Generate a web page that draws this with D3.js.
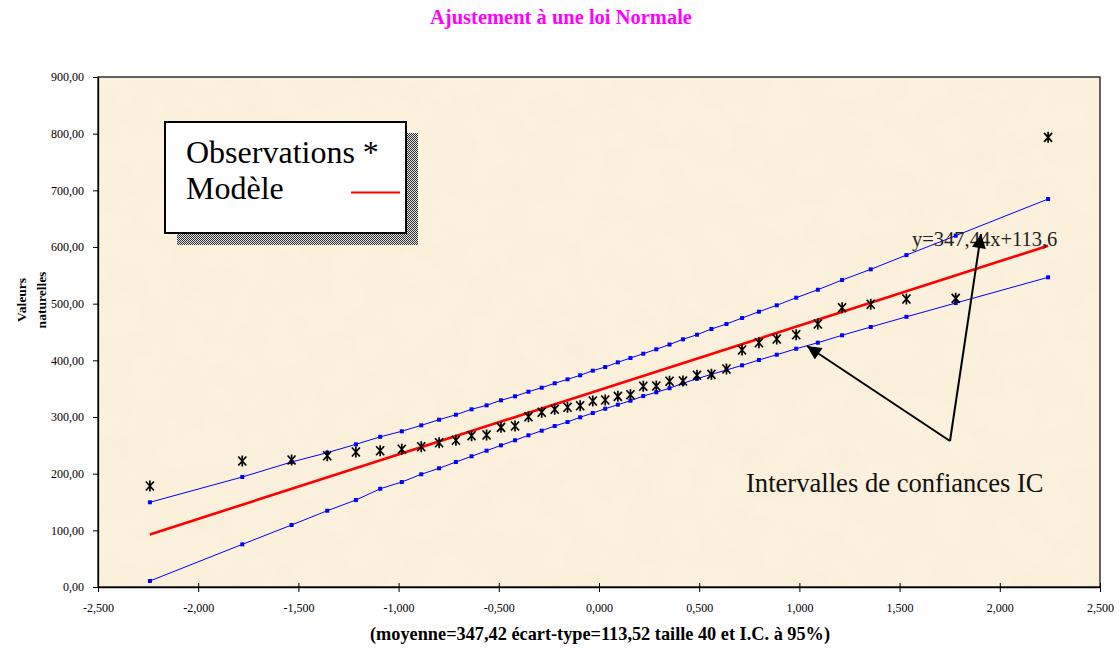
<!DOCTYPE html>
<html>
<head>
<meta charset="utf-8">
<script src="https://cdn.jsdelivr.net/npm/d3@7/dist/d3.min.js"></script>
<style>
  html, body { margin: 0; padding: 0; background: #ffffff; }
  svg { display: block; }
</style>
</head>
<body>
<svg id="chart" width="1120" height="650"></svg>
<script>
// Normal scores (quantiles of the standard normal) for the 40 ranked observations
const normalScores = [
  -2.241, -1.780, -1.534, -1.356, -1.213, -1.092, -0.984, -0.887, -0.798, -0.714,
  -0.636, -0.561, -0.489, -0.419, -0.352, -0.286, -0.221, -0.157, -0.094, -0.031,
   0.031,  0.094,  0.157,  0.221,  0.286,  0.352,  0.419,  0.489,  0.561,  0.636,
   0.714,  0.798,  0.887,  0.984,  1.092,  1.213,  1.356,  1.534,  1.780,  2.241
];

// Ranked observations (natural values)
const observations = [
  178.2, 222.3, 224.1, 231.7, 238.2, 240.5, 243.0, 247.6, 254.6, 258.9,
  267.0, 268.2, 281.8, 284.1, 300.5, 308.3, 313.6, 317.1, 319.9, 328.2,
  330.0, 336.5, 339.3, 354.2, 354.7, 363.0, 363.5, 373.6, 375.3, 384.7,
  418.2, 431.1, 437.6, 445.2, 464.1, 492.9, 498.9, 508.2, 509.4, 793.5
];

// Upper bound of the 95% confidence band
const icUpper = [
  149.5, 194.1, 220.6, 237.0, 251.8, 265.0, 274.8, 285.3, 295.2, 304.0,
  313.6, 320.6, 329.5, 336.5, 344.6, 351.7, 359.5, 366.5, 373.6, 381.7,
  388.2, 396.5, 404.1, 411.7, 419.5, 427.9, 437.1, 445.2, 455.3, 464.1,
  474.7, 485.8, 497.1, 510.5, 524.6, 541.7, 560.6, 585.7, 619.9, 684.7
];

// Lower bound of the 95% confidence band
const icLower = [
   10.6,  75.3, 109.4, 134.6, 153.5, 173.3, 185.3, 198.9, 209.5, 220.6,
  230.6, 240.5, 250.0, 258.9, 267.7, 275.8, 284.1, 291.2, 299.5, 307.0,
  314.6, 321.7, 328.7, 337.0, 343.6, 350.8, 359.5, 367.6, 375.3, 382.9,
  391.2, 400.6, 409.9, 420.5, 431.1, 444.2, 458.8, 476.8, 501.1, 546.5
];

// Fitted normal model, end points
const modelScores = [-2.241, 2.241];
const modelValues = [92.8, 602.1];

const xTickValues = [-2.5, -2.0, -1.5, -1.0, -0.5, 0.0, 0.5, 1.0, 1.5, 2.0, 2.5];
const yTickValues = [0, 100, 200, 300, 400, 500, 600, 700, 800, 900];

const titleText = "Ajustement à une loi Normale";
const xTitleText = "(moyenne=347,42 écart-type=113,52 taille 40 et I.C. à 95%)";
const yTitleLines = ["Valeurs", "naturelles"];
const legendLabels = ["Observations *", "Modèle"];
const equationText = "y=347,44x+113,6";
const bandNoteText = "Intervalles de confiances IC";

// ---------------------------------------------------------------------------
const serif = "'Liberation Serif', 'Times New Roman', serif";
const svg = d3.select("#chart");

const plot = { left: 98, right: 1100, top: 77, bottom: 587 };

const x = d3.scaleLinear().domain([-2.5, 2.5]).range([plot.left, plot.right]);
const y = d3.scaleLinear().domain([0, 900]).range([plot.bottom, plot.top]);

const frLocale = d3.formatLocale({
  decimal: ",", thousands: " ", grouping: [3], currency: ["", ""], minus: "-"
});
const fmtX = frLocale.format(".3f");
const fmtY = frLocale.format(".2f");

const defs = svg.append("defs");

// parchment mottling
const parch = defs.append("filter").attr("id", "parchment")
  .attr("x", 0).attr("y", 0).attr("width", 1).attr("height", 1);
parch.append("feTurbulence").attr("type", "fractalNoise")
  .attr("baseFrequency", "0.03").attr("numOctaves", 4).attr("seed", 7);
parch.append("feColorMatrix").attr("type", "matrix")
  .attr("values", "0 0 0 0 0.90  0 0 0 0 0.80  0 0 0 0 0.62  1.6 0 0 0 -0.62");

// dithered legend shadow
const dither = defs.append("pattern").attr("id", "dither")
  .attr("width", 2).attr("height", 2).attr("patternUnits", "userSpaceOnUse");
dither.append("rect").attr("width", 2).attr("height", 2).attr("fill", "#e8e8e8");
dither.append("rect").attr("x", 0).attr("y", 0).attr("width", 1).attr("height", 1).attr("fill", "#2a2a2a");
dither.append("rect").attr("x", 1).attr("y", 1).attr("width", 1).attr("height", 1).attr("fill", "#2a2a2a");

// arrow head
defs.append("marker").attr("id", "arrowHead")
  .attr("viewBox", "0 0 10 10").attr("refX", 10).attr("refY", 5)
  .attr("markerWidth", 8).attr("markerHeight", 7).attr("markerUnits", "strokeWidth")
  .attr("orient", "auto")
  .append("path").attr("d", "M0,0L10,5L0,10Z").attr("fill", "#000");

// plot area background
svg.append("rect")
  .attr("x", plot.left).attr("y", plot.top)
  .attr("width", plot.right - plot.left).attr("height", plot.bottom - plot.top)
  .attr("fill", "#fbf1dc");
svg.append("rect")
  .attr("x", plot.left).attr("y", plot.top)
  .attr("width", plot.right - plot.left).attr("height", plot.bottom - plot.top)
  .attr("filter", "url(#parchment)").attr("opacity", 0.3);

// title
svg.append("text")
  .attr("x", 561).attr("y", 24)
  .attr("text-anchor", "middle")
  .attr("font-family", serif).attr("font-weight", "bold").attr("font-size", 20.5)
  .attr("fill", "#ff00ff")
  .text(titleText);

// axes
const xAxis = svg.append("g")
  .attr("transform", `translate(0,${plot.bottom})`)
  .call(d3.axisBottom(x).tickValues(xTickValues).tickFormat(fmtX)
    .tickSizeInner(5).tickSizeOuter(0).tickPadding(11));
xAxis.selectAll(".tick line").attr("y1", -4);
xAxis.selectAll("text").attr("font-family", serif).attr("font-size", 12).attr("fill", "#000");
xAxis.select(".domain").attr("stroke", "#000").attr("stroke-width", 1.3);

const yAxis = svg.append("g")
  .attr("transform", `translate(${plot.left},0)`)
  .call(d3.axisLeft(y).tickValues(yTickValues).tickFormat(fmtY)
    .tickSizeInner(5).tickSizeOuter(0).tickPadding(9));
yAxis.selectAll("text").attr("font-family", serif).attr("font-size", 12).attr("fill", "#000");
yAxis.select(".domain").attr("stroke", "#000").attr("stroke-width", 1.3);

// plot frame
svg.append("rect")
  .attr("x", plot.left).attr("y", plot.top)
  .attr("width", plot.right - plot.left).attr("height", plot.bottom - plot.top)
  .attr("fill", "none").attr("stroke", "#000").attr("stroke-width", 1.2);

// axis titles
svg.append("text")
  .attr("x", 600).attr("y", 640)
  .attr("text-anchor", "middle")
  .attr("font-family", serif).attr("font-weight", "bold").attr("font-size", 18.3)
  .text(xTitleText);

const yTitle = svg.append("text")
  .attr("transform", "translate(0,300) rotate(-90)")
  .attr("text-anchor", "middle")
  .attr("font-family", serif).attr("font-weight", "bold").attr("font-size", 13.5);
yTitle.selectAll("tspan").data(yTitleLines).join("tspan")
  .attr("x", 0).attr("y", (d, i) => 26 + i * 20)
  .text(d => d);

// confidence band
const bandLine = d3.line().x(d => x(d[0])).y(d => y(d[1]));
[icUpper, icLower].forEach(series => {
  const pts = normalScores.map((z, i) => [z, series[i]]);
  svg.append("path").datum(pts)
    .attr("d", bandLine).attr("fill", "none")
    .attr("stroke", "#0000ff").attr("stroke-width", 1);
  svg.append("g").selectAll("rect").data(pts).join("rect")
    .attr("x", d => x(d[0]) - 2).attr("y", d => y(d[1]) - 2)
    .attr("width", 4).attr("height", 4).attr("fill", "#0000ff");
});

// model line
svg.append("path")
  .datum(modelScores.map((z, i) => [z, modelValues[i]]))
  .attr("d", bandLine).attr("fill", "none")
  .attr("stroke", "#ff0000").attr("stroke-width", 2.6);

// observations, star markers
svg.append("g").selectAll("path")
  .data(normalScores.map((z, i) => [z, observations[i]]))
  .join("path")
  .attr("transform", d => `translate(${x(d[0])},${y(d[1])})`)
  .attr("d", "M-4,-4.5L4,4.5M-4,4.5L4,-4.5M0,-5.5L0,5.5")
  .attr("stroke", "#000").attr("stroke-width", 1.7).attr("fill", "none");

// legend
const legend = svg.append("g");
legend.append("rect").attr("x", 177).attr("y", 133).attr("width", 241).attr("height", 112)
  .attr("fill", "url(#dither)");
legend.append("rect").attr("x", 165).attr("y", 122).attr("width", 241).attr("height", 111)
  .attr("fill", "#fff").attr("stroke", "#000").attr("stroke-width", 2);
legend.selectAll("text").data(legendLabels).join("text")
  .attr("x", 186).attr("y", (d, i) => 163 + i * 36)
  .attr("font-family", serif).attr("font-size", 32).attr("fill", "#000")
  .text(d => d);
legend.append("line").attr("x1", 351).attr("x2", 400).attr("y1", 192.5).attr("y2", 192.5)
  .attr("stroke", "#ff0000").attr("stroke-width", 2);

// equation of the fitted line
svg.append("text")
  .attr("x", 912).attr("y", 246)
  .attr("font-family", serif).attr("font-size", 20.5).attr("fill", "#222")
  .text(equationText);

// annotation arrows pointing at the band
const apex = [950, 441];
[[807, 346], [981, 234]].forEach(tip => {
  svg.append("line")
    .attr("x1", apex[0]).attr("y1", apex[1]).attr("x2", tip[0]).attr("y2", tip[1])
    .attr("stroke", "#000").attr("stroke-width", 2)
    .attr("marker-end", "url(#arrowHead)");
});

svg.append("text")
  .attr("x", 746).attr("y", 492)
  .attr("font-family", serif).attr("font-size", 26.6).attr("fill", "#111")
  .text(bandNoteText);
</script>
</body>
</html>
